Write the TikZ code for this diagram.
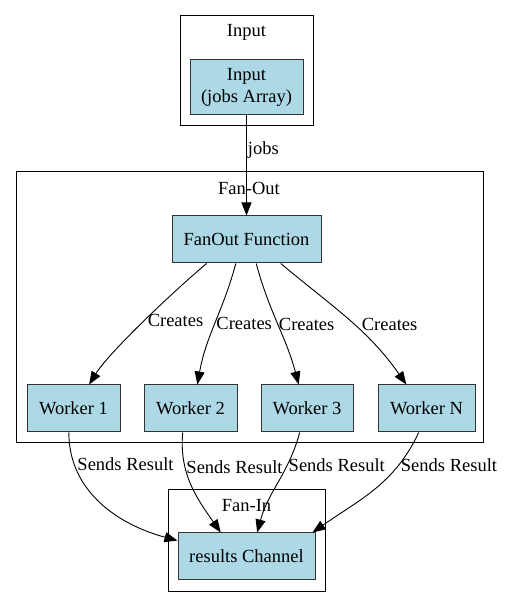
\documentclass[tikz,border=0pt]{standalone}
\usepackage{fontspec}
\setmainfont{Liberation Serif}
\usetikzlibrary{arrows.meta, positioning}
\definecolor{boxblue}{RGB}{173,216,230}
\definecolor{boxline}{RGB}{51,51,51}
\tikzset{
>={Triangle[length=13pt,width=10pt]}, % graphviz-like filled heads
every node/.style={inner sep=1pt, font=\fontsize{18.5}{22}\selectfont},
box/.style={draw=boxline, fill=boxblue, line width=1pt, align=center, minimum height=47pt},
cluster/.style={draw=black, line width=1pt},
lbl/.style={anchor=west, inner sep=1pt},
}
\begin{document}
\begin{tikzpicture}[x=1pt, y=1pt, node distance=23pt, line width=0.9pt]
  \useasboundingbox (0,0) rectangle (508,608);

  % the three clusters
  \draw[cluster] (180,592) rectangle (313,482);
  \draw[cluster] (16,436) rectangle (483,165);
  \draw[cluster] (168,118) rectangle (325,16);
  \node (inlbl) at (246.5,576) {Input};
  \node (folbl) at (249,420) {Fan-Out};
  \node (filbl) at (246.5,102) {Fan-In};

  \node[box, minimum width=113pt, minimum height=55pt] (in) at (246.5,520.5) {Input\\(jobs Array)};
  \node[box, minimum width=149pt] (fo) at (246.5,368.5) {FanOut Function};
  \node[box, minimum width=93pt] (w1) at (73.5,199.5) {Worker 1};
  \node[box, minimum width=93pt, right=of w1] (w2) {Worker 2};
  \node[box, minimum width=92pt, right=of w2] (w3) {Worker 3};
  \node[box, minimum width=97pt, right=24pt of w3] (wn) {Worker N};
  \node[box, minimum width=137pt] (rc) at (246.5,51.5) {results Channel};

  \draw[->] (in) -- node[lbl, pos=0.35] {jobs} (fo);

  \path[->]
  (fo.211) edge[out=-140, in=58, looseness=0.6] node[lbl, pos=0.5, xshift=2pt]{Creates} (w1.57)
  (fo.246) edge[out=-105, in=80] node[lbl, pos=0.5]{Creates} (w2.74)
  (fo.292) edge[out=-75, in=105] node[lbl, pos=0.5]{Creates} (w3.109)
  (fo.325) edge[out=-40, in=125] node[lbl, pos=0.55, xshift=6pt]{Creates} (wn.130)
  (w1.259) edge[out=-90, in=165] node[lbl, pos=0.19, xshift=2pt]{Sends Result} (rc.167)
  (w2.252) edge[out=-95, in=125] node[lbl, pos=0.31]{Sends Result} (rc.137)
  (w3.253) edge[out=-105, in=75] node[lbl, pos=0.31]{Sends Result} (rc.66)
  (wn.252) edge[out=-115, in=35] node[lbl, pos=0.25, xshift=1pt]{Sends Result} (rc.20);
\end{tikzpicture}
\end{document}
